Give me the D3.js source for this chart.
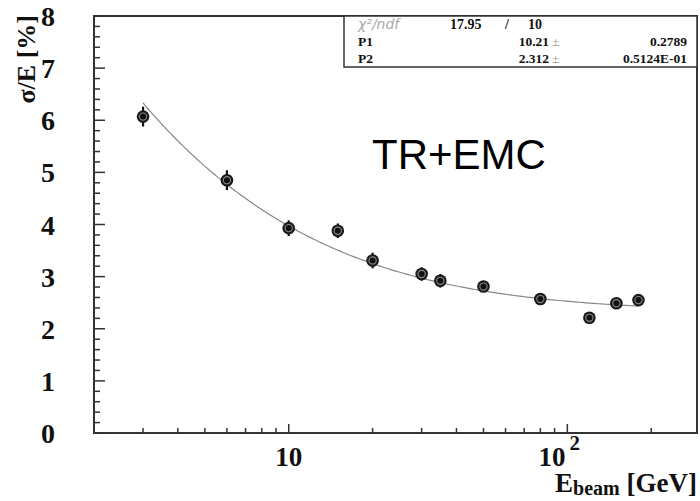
<!DOCTYPE html>
<html><head><meta charset="utf-8">
<script src="https://cdn.jsdelivr.net/npm/d3@7"></script>
<style>html,body{margin:0;padding:0;background:#fff;}svg{display:block;}</style>
</head><body>
<script>
// ---- data ----
const energies = [3, 6, 10, 15, 20, 30, 35, 50, 80, 120, 150, 180];
const resolution = [6.07, 4.85, 3.93, 3.88, 3.31, 3.05, 2.92, 2.81, 2.57, 2.21, 2.49, 2.55];
const errors = [0.19, 0.19, 0.15, 0.14, 0.15, 0.13, 0.13, 0.09, 0.09, 0.07, 0.08, 0.07];
const yTicks = [0, 1, 2, 3, 4, 5, 6, 7, 8];
const xMajorTicks = [10, 100];
const xMinorTicks = [3, 4, 5, 6, 7, 8, 9, 20, 30, 40, 50, 60, 70, 80, 90, 200];
const fitParams = {P1: 10.21, P2: 2.312};
const statRows = [
  ["P1", "10.21", "0.2789"],
  ["P2", "2.312", "0.5124E-01"]
];
const chiText = ["17.95", "/", "10"];
const label = "TR+EMC";

const W = 700, H = 501;
const L = 94, R = 697, T = 16, B = 433;
const svg = d3.select("body").append("svg").attr("width", W).attr("height", H);

const x = d3.scaleLog().domain([2, 292]).range([L, R]);
const y = d3.scaleLinear().domain([0, 8]).range([B, T]);
const serif = "'Liberation Serif','Times New Roman',serif";

// frame
svg.append("rect").attr("x", L).attr("y", T).attr("width", R - L).attr("height", B - T)
  .attr("fill", "none").attr("stroke", "#333").attr("stroke-width", 2);

// y ticks (inside, pointing right)
const yMinor = d3.range(0, 8.001, 0.2);
svg.append("g").selectAll("line").data(yMinor).join("line")
  .attr("x1", L).attr("x2", d => L + (Math.abs(d - Math.round(d)) < 1e-6 ? 11 : 6))
  .attr("y1", d => y(d)).attr("y2", d => y(d))
  .attr("stroke", "#333").attr("stroke-width", 1.5);
svg.append("g").selectAll("text").data(yTicks).join("text")
  .attr("x", 55).attr("y", d => y(d)).attr("dy", "0.36em")
  .attr("text-anchor", "end").attr("font-family", serif).attr("font-weight", "bold")
  .attr("font-size", 28).attr("fill", "#111").text(d => d);

// x ticks (inside, pointing up)
svg.append("g").selectAll("line").data(xMinorTicks).join("line")
  .attr("x1", d => x(d)).attr("x2", d => x(d)).attr("y1", B).attr("y2", B - 5)
  .attr("stroke", "#333").attr("stroke-width", 1.5);
svg.append("g").selectAll("line").data(xMajorTicks).join("line")
  .attr("x1", d => x(d)).attr("x2", d => x(d)).attr("y1", B).attr("y2", B - 9)
  .attr("stroke", "#333").attr("stroke-width", 1.5);

// x tick labels
svg.append("text").attr("x", x(10)).attr("y", 466).attr("text-anchor", "middle")
  .attr("font-family", serif).attr("font-weight", "bold").attr("font-size", 27).attr("fill", "#111").text("10");
const t100 = svg.append("text").attr("x", x(100) - 8).attr("y", 466).attr("text-anchor", "middle")
  .attr("font-family", serif).attr("font-weight", "bold").attr("font-size", 27).attr("fill", "#111");
t100.append("tspan").text("10");
t100.append("tspan").attr("dx", 4).attr("dy", -16).attr("font-size", 21).text("2");

// x axis title
const xt = svg.append("text").attr("x", R).attr("y", 492).attr("text-anchor", "end")
  .attr("font-family", serif).attr("font-weight", "bold").attr("font-size", 27).attr("fill", "#111");
xt.append("tspan").text("E");
xt.append("tspan").attr("dy", 3).attr("font-size", 20).text("beam");
xt.append("tspan").attr("dy", -3).text(" [GeV]");

// y axis title
svg.append("text").attr("transform", `translate(35,15) rotate(-90)`)
  .attr("text-anchor", "end").attr("font-family", serif).attr("font-weight", "bold")
  .attr("font-size", 26).attr("fill", "#111").text("σ/E [%]");

// fit curve
const fitFn = e => Math.sqrt(Math.pow(fitParams.P1 / Math.sqrt(e), 2) + Math.pow(fitParams.P2, 2));
const fitX = d3.range(Math.log10(3), Math.log10(180) + 1e-9, (Math.log10(180) - Math.log10(3)) / 200).map(v => Math.pow(10, v));
svg.append("path").datum(fitX)
  .attr("d", d3.line().x(d => x(d)).y(d => y(fitFn(d))))
  .attr("fill", "none").attr("stroke", "#888").attr("stroke-width", 1.2);

// data points
const pts = energies.map((e, i) => ({e, v: resolution[i], err: errors[i]}));
const g = svg.append("g");
g.selectAll("line.err").data(pts).join("line").attr("class", "err")
  .attr("x1", d => x(d.e)).attr("x2", d => x(d.e))
  .attr("y1", d => y(d.v + d.err)).attr("y2", d => y(d.v - d.err))
  .attr("stroke", "#111").attr("stroke-width", 2.2);
g.selectAll("circle.o").data(pts).join("circle").attr("class", "o")
  .attr("cx", d => x(d.e)).attr("cy", d => y(d.v)).attr("r", 6.3).attr("fill", "#1a1a1a");
g.selectAll("circle.m").data(pts).join("circle").attr("class", "m")
  .attr("cx", d => x(d.e)).attr("cy", d => y(d.v)).attr("r", 3.6)
  .attr("fill", "#111").attr("stroke", "#8a8a8a").attr("stroke-width", 1.1);

// label
svg.append("text").attr("x", 459).attr("y", 169).attr("text-anchor", "middle")
  .attr("font-family", "'Liberation Sans',Arial,sans-serif").attr("font-size", 42)
  .attr("fill", "#000").text(label);

// stat box
const sb = svg.append("g");
sb.append("rect").attr("x", 344).attr("y", T).attr("width", R - 344).attr("height", 51)
  .attr("fill", "#fff").attr("stroke", "#333").attr("stroke-width", 1.5);
sb.append("text").attr("x", 358).attr("y", 29).attr("font-family", "'DejaVu Sans',sans-serif")
  .attr("font-size", 14).attr("font-weight", 300).attr("fill", "#aaa").attr("font-style", "italic")
  .text("χ²/ndf");
sb.append("text").attr("x", 450).attr("y", 29).attr("font-family", serif).attr("font-weight", "bold")
  .attr("font-size", 14).attr("fill", "#111").text(chiText[0]);
sb.append("text").attr("x", 505).attr("y", 29).attr("font-family", serif).attr("font-weight", "bold")
  .attr("font-size", 14).attr("fill", "#111").text(chiText[1]);
sb.append("text").attr("x", 528).attr("y", 29).attr("font-family", serif).attr("font-weight", "bold")
  .attr("font-size", 14).attr("fill", "#111").text(chiText[2]);
statRows.forEach((r, i) => {
  const yy = 46 + i * 16.5;
  sb.append("text").attr("x", 358).attr("y", yy).attr("font-family", serif).attr("font-weight", "bold")
    .attr("font-size", 13.5).attr("fill", "#111").text(r[0]);
  sb.append("text").attr("x", 549).attr("y", yy).attr("text-anchor", "end").attr("font-family", serif)
    .attr("font-weight", "bold").attr("font-size", 13.5).attr("fill", "#111").text(r[1]);
  sb.append("text").attr("x", 552).attr("y", yy).attr("font-family", serif)
    .attr("font-size", 13.5).attr("fill", "#999").text("±");
  sb.append("text").attr("x", 687).attr("y", yy).attr("text-anchor", "end").attr("font-family", serif)
    .attr("font-weight", "bold").attr("font-size", 13.5).attr("fill", "#111").text(r[2]);
});
</script>
</body></html>
